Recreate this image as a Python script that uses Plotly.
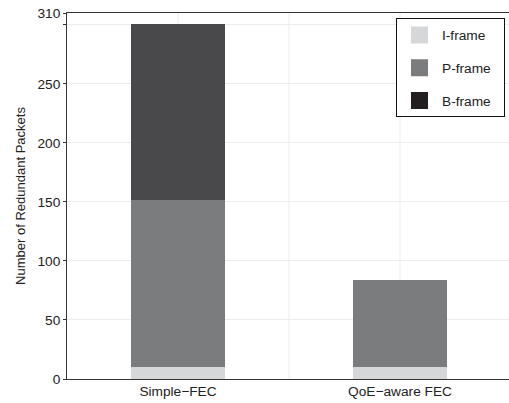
import plotly.graph_objects as go

categories = ["Simple\u2212FEC", "QoE\u2212aware FEC"]
x_pos = [1, 2]
i_frame = [10, 10]
p_frame = [142, 74]
b_frame = [149, 0]
series_names = ["I-frame", "P-frame", "B-frame"]
bar_colors = ["#d6d7d9", "#7b7c7e", "#49494b"]
legend_colors = ["#d6d7d9", "#7b7c7e", "#231f20"]
y_ticks = [0, 50, 100, 150, 200, 250, 300, 310]
y_ticktext = ["0", "50", "100", "150", "200", "250", "", "310"]

fig = go.Figure()
for k, vals in enumerate([i_frame, p_frame, b_frame]):
    fig.add_trace(go.Bar(x=x_pos, y=vals, name=series_names[k],
                         marker=dict(color=bar_colors[k], line=dict(width=0)),
                         width=0.42, showlegend=False, legendgroup=series_names[k]))
for k in range(3):
    fig.add_trace(go.Bar(x=[None], y=[None], name=series_names[k] + "\u00a0\u00a0",
                         marker=dict(color=legend_colors[k],
                                     line=dict(width=6, color=legend_colors[k])),
                         legendgroup=series_names[k], showlegend=True))

fig.update_layout(
    barmode="stack",
    width=511, height=403,
    margin=dict(l=67, r=0, t=13, b=24),
    plot_bgcolor="white", paper_bgcolor="white",
    font=dict(family="Liberation Sans, Arial, sans-serif", size=13.7, color="#222"),
    legend=dict(x=0.741, xanchor="left", y=0.985, yanchor="top",
                bordercolor="#111", borderwidth=1, bgcolor="white",
                font=dict(size=13.7), traceorder="grouped", tracegroupgap=12,
                itemwidth=35),
    xaxis=dict(range=[0.5, 2.5], tickvals=x_pos, ticktext=categories,
               showgrid=False, showline=True, linecolor="#333", linewidth=1,
               mirror=True, ticks="", zeroline=False),
    yaxis=dict(range=[0, 310], tickvals=y_ticks, ticktext=y_ticktext,
               showgrid=True, gridcolor="#ececec", gridwidth=1,
               showline=True, linecolor="#333", linewidth=1, mirror=False,
               ticks="outside", ticklen=3, tickcolor="#333", zeroline=False,
               title=dict(text="Number of Redundant Packets", font=dict(size=13), standoff=8)),
)
for xv in [1, 1.5, 2]:
    fig.add_vline(x=xv, line=dict(color="#ececec", width=1), layer="below")

fig.write_html("out.html", config={"displayModeBar": False},
               post_script="document.body.style.margin='0';document.body.style.overflow='hidden';")
